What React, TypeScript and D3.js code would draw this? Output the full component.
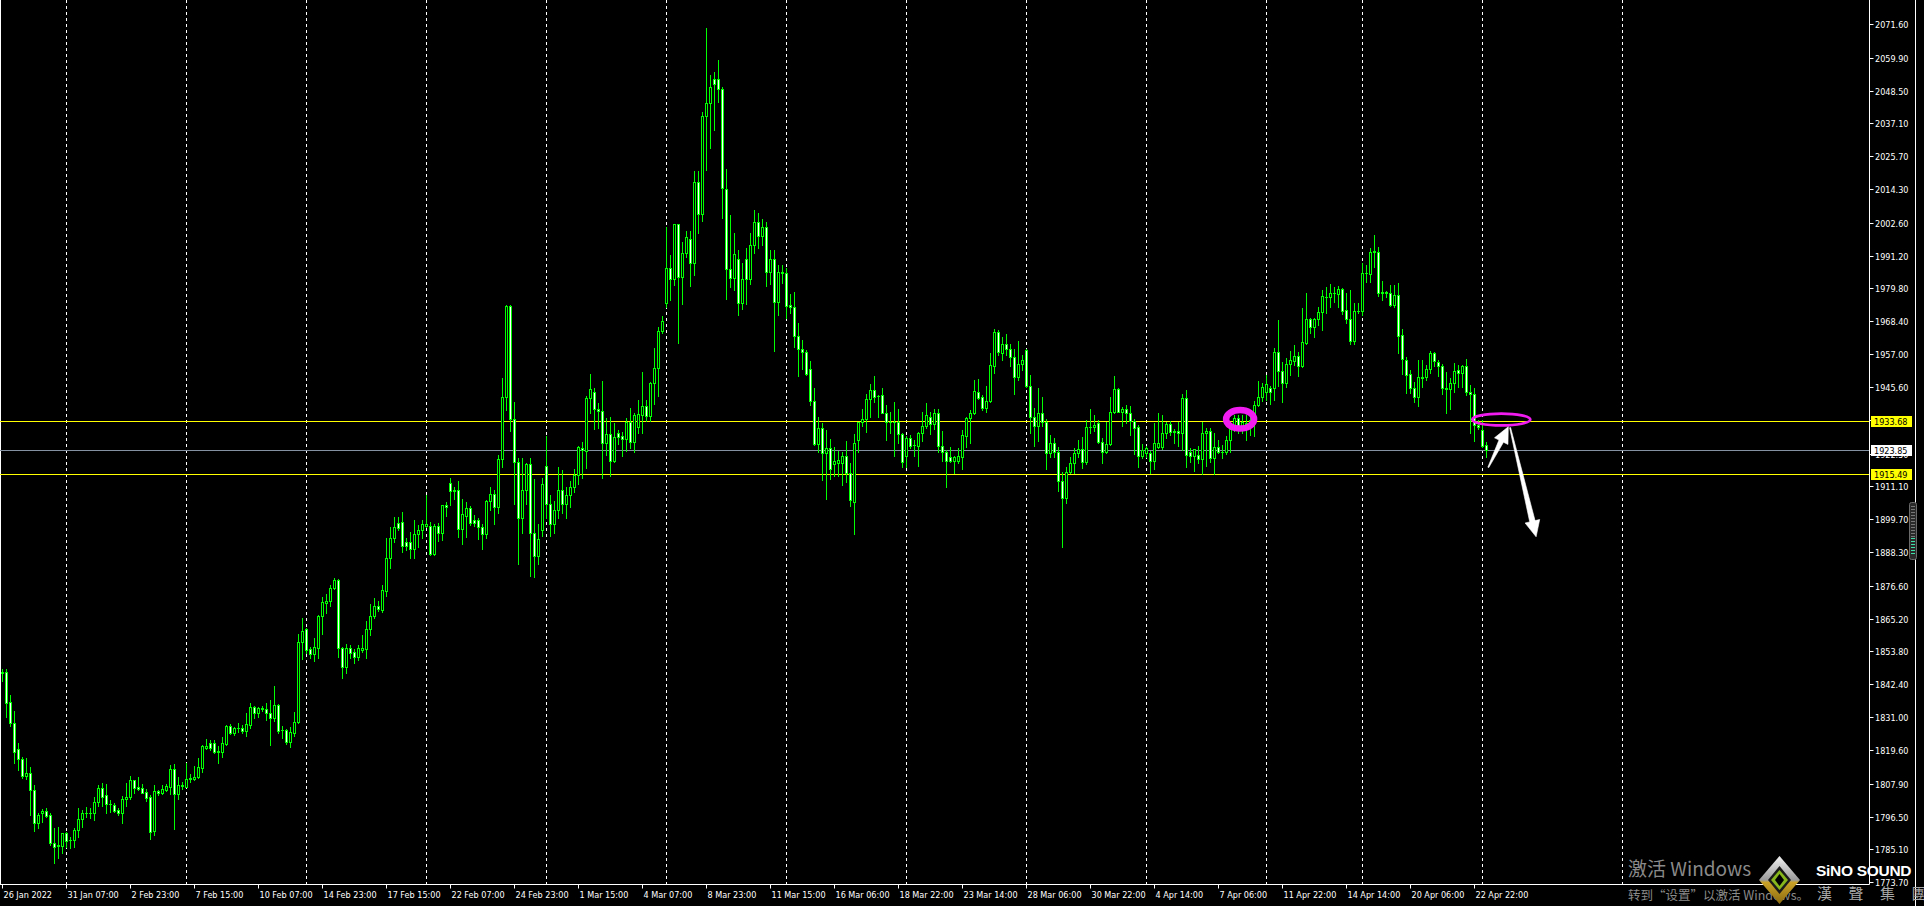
import React, { useEffect } from 'react';
import * as d3 from 'd3';

// ---------- DATA (XAUUSD H4) ----------
const opens = [
  1846.2, 1846.6, 1836.2, 1828.9, 1820.0, 1816.5, 1810.7, 1811.5, 1805.7, 1794.4,
  1797.6, 1798.3, 1797.1, 1787.2, 1786.6, 1786.4, 1790.7, 1788.4, 1788.4, 1791.9,
  1795.6, 1797.6, 1797.8, 1797.6, 1801.5, 1806.3, 1803.9, 1800.9, 1800.4, 1798.7,
  1797.6, 1802.5, 1803.4, 1809.1, 1806.6, 1806.3, 1804.9, 1803.2, 1791.6, 1805.2,
  1804.8, 1805.7, 1806.9, 1812.9, 1804.2, 1807.0, 1806.9, 1809.6, 1809.5, 1810.1,
  1813.5, 1820.2, 1821.9, 1821.9, 1819.0, 1818.8, 1821.7, 1827.9, 1825.4, 1827.1,
  1827.3, 1826.3, 1828.3, 1834.4, 1832.6, 1834.0, 1833.7, 1832.6, 1830.8, 1835.2,
  1826.5, 1826.6, 1822.5, 1825.6, 1829.2, 1857.0, 1861.5, 1854.7, 1852.8, 1855.1,
  1866.1, 1870.7, 1871.4, 1875.7, 1878.6, 1854.9, 1848.5, 1854.9, 1853.5, 1852.0,
  1854.3, 1854.6, 1861.5, 1866.2, 1869.6, 1868.2, 1874.9, 1886.1, 1893.1, 1898.3,
  1898.6, 1891.7, 1891.7, 1889.3, 1894.5, 1896.0, 1897.4, 1897.4, 1887.5, 1897.4,
  1894.8, 1904.6, 1912.2, 1909.4, 1909.9, 1896.2, 1900.9, 1903.5, 1899.4, 1899.4,
  1896.9, 1894.5, 1906.0, 1908.5, 1904.0, 1920.5, 1942.0, 1973.7, 1934.4, 1919.7,
  1900.0, 1910.0, 1918.8, 1895.0, 1887.0, 1896.0, 1918.2, 1905.0, 1898.0, 1903.0,
  1910.0, 1905.0, 1908.0, 1911.0, 1915.0, 1924.6, 1923.5, 1941.7, 1944.0, 1937.9,
  1937.4, 1926.3, 1929.2, 1920.0, 1929.5, 1928.6, 1927.4, 1933.6, 1926.6, 1931.8,
  1935.9, 1939.0, 1935.5, 1946.9, 1952.1, 1965.0, 1974.6, 1986.8, 1983.0, 2002.1,
  1983.9, 1992.0, 1996.9, 1988.8, 2016.6, 2005.5, 2039.7, 2044.1, 2052.4, 2052.4,
  2048.9, 2014.2, 1986.4, 1983.3, 1989.9, 1974.6, 1990.0, 1983.0, 1995.0, 2003.0,
  1998.0, 2001.0, 1985.6, 1990.0, 1975.0, 1985.6, 1985.1, 1974.1, 1973.3, 1963.4,
  1958.7, 1957.6, 1951.7, 1940.9, 1925.8, 1931.3, 1922.6, 1924.3, 1918.8, 1919.3,
  1919.3, 1921.7, 1915.6, 1905.8, 1927.2, 1933.6, 1934.4, 1941.3, 1944.6, 1942.5,
  1942.8, 1936.7, 1933.3, 1933.4, 1933.3, 1929.2, 1921.8, 1927.8, 1925.4, 1925.2,
  1929.5, 1932.1, 1935.3, 1932.7, 1936.5, 1925.1, 1923.2, 1921.2, 1920.0, 1920.0,
  1921.4, 1928.7, 1934.7, 1936.5, 1943.8, 1942.0, 1938.2, 1940.7, 1953.0, 1964.6,
  1957.3, 1960.4, 1958.7, 1956.1, 1949.0, 1953.6, 1958.4, 1945.9, 1935.1, 1932.2,
  1936.5, 1933.6, 1922.6, 1926.3, 1922.9, 1913.0, 1907.0, 1916.0, 1919.1, 1922.6,
  1924.0, 1919.5, 1931.6, 1931.6, 1933.0, 1926.6, 1923.2, 1925.8, 1937.0, 1944.8,
  1937.0, 1937.8, 1936.7, 1933.9, 1931.6, 1921.8, 1922.6, 1922.8, 1920.0, 1924.9,
  1924.9, 1929.5, 1932.8, 1930.5, 1930.4, 1929.5, 1941.7, 1923.2, 1921.8, 1922.0,
  1920.5, 1929.5, 1930.3, 1920.8, 1924.7, 1922.9, 1922.9, 1927.2, 1930.9, 1934.7,
  1932.2, 1932.4, 1933.2, 1933.2, 1939.4, 1942.0, 1944.0, 1945.1, 1945.1, 1957.6,
  1951.3, 1946.9, 1953.6, 1954.7, 1956.4, 1953.0, 1961.0, 1969.1, 1966.5, 1969.1,
  1971.5, 1977.0, 1976.7, 1978.3, 1977.9, 1979.6, 1972.3, 1969.1, 1961.7, 1972.0,
  1972.1, 1985.1, 1984.8, 1992.6, 1992.3, 1978.4, 1978.4, 1978.1, 1974.1, 1977.5,
  1963.7, 1955.0, 1950.1, 1945.1, 1942.2, 1948.8, 1949.0, 1951.7, 1957.3, 1954.4,
  1953.0, 1945.1, 1944.8, 1946.9, 1951.5, 1950.4, 1952.9, 1944.0, 1943.2, 1932.4,
  1930.7, 1925.5,
];

const highs = [
  1847.6, 1847.6, 1838.7, 1833.2, 1821.9, 1817.1, 1816.7, 1813.8, 1807.5, 1797.6,
  1799.0, 1799.4, 1797.6, 1792.4, 1792.8, 1790.7, 1791.3, 1789.5, 1792.4, 1799.4,
  1798.8, 1799.7, 1799.4, 1803.2, 1807.5, 1808.3, 1807.7, 1802.3, 1801.3, 1799.4,
  1803.7, 1808.0, 1810.6, 1809.2, 1810.1, 1807.7, 1806.0, 1804.0, 1807.5, 1805.7,
  1807.5, 1807.7, 1814.3, 1814.6, 1810.1, 1808.6, 1815.0, 1811.2, 1814.1, 1816.7,
  1821.4, 1823.3, 1823.1, 1823.1, 1821.0, 1824.2, 1828.3, 1828.6, 1827.7, 1828.9,
  1828.3, 1832.3, 1835.8, 1834.9, 1834.6, 1834.9, 1835.8, 1837.0, 1841.8, 1835.5,
  1827.9, 1826.8, 1827.5, 1832.7, 1859.8, 1865.3, 1861.8, 1855.2, 1858.4, 1866.5,
  1872.6, 1873.8, 1876.9, 1879.2, 1878.8, 1855.2, 1856.3, 1856.1, 1854.6, 1856.1,
  1859.5, 1864.4, 1870.3, 1872.3, 1871.4, 1876.9, 1893.1, 1897.1, 1900.6, 1900.6,
  1902.1, 1893.1, 1895.4, 1899.4, 1897.7, 1899.4, 1908.1, 1898.6, 1898.1, 1898.3,
  1904.6, 1905.6, 1913.9, 1910.8, 1913.0, 1906.6, 1905.6, 1904.3, 1901.2, 1900.0,
  1897.9, 1906.4, 1911.0, 1910.0, 1922.0, 1948.6, 1974.1, 1973.9, 1940.5, 1921.0,
  1920.8, 1919.3, 1920.8, 1913.6, 1898.0, 1914.0, 1928.6, 1908.0, 1906.0, 1918.0,
  1916.8, 1911.0, 1913.0, 1917.0, 1925.1, 1926.6, 1942.5, 1950.1, 1945.1, 1939.9,
  1947.7, 1934.7, 1935.1, 1933.0, 1930.7, 1930.1, 1934.7, 1938.2, 1936.5, 1941.1,
  1950.9, 1941.1, 1947.5, 1959.0, 1966.5, 1970.2, 2001.2, 1991.4, 2002.1, 2002.1,
  1995.8, 1999.7, 1999.7, 2020.6, 2020.6, 2040.9, 2070.1, 2053.9, 2055.0, 2059.1,
  2049.6, 2021.2, 2005.3, 1998.9, 1993.2, 1988.8, 1994.0, 1999.0, 2007.0, 2006.0,
  2004.0, 2003.0, 1993.0, 1993.0, 1988.0, 1988.0, 1987.0, 1977.9, 1978.5, 1967.7,
  1961.9, 1958.4, 1954.7, 1945.1, 1935.1, 1933.0, 1930.7, 1927.6, 1924.8, 1923.4,
  1922.9, 1926.9, 1919.3, 1929.3, 1933.6, 1937.9, 1943.2, 1946.6, 1949.4, 1942.8,
  1945.1, 1939.4, 1936.8, 1940.4, 1938.0, 1929.5, 1928.7, 1928.9, 1927.2, 1929.9,
  1936.8, 1939.9, 1936.8, 1937.9, 1937.9, 1930.3, 1923.7, 1924.7, 1921.8, 1924.3,
  1930.7, 1935.3, 1937.6, 1948.0, 1948.4, 1942.7, 1945.9, 1957.3, 1965.6, 1965.4,
  1962.8, 1963.9, 1960.4, 1958.7, 1961.6, 1956.7, 1958.7, 1949.8, 1938.2, 1945.1,
  1942.2, 1934.4, 1928.9, 1928.0, 1924.9, 1916.0, 1918.0, 1921.4, 1924.3, 1927.2,
  1928.1, 1934.1, 1938.0, 1935.9, 1934.1, 1927.8, 1933.6, 1942.2, 1949.4, 1945.1,
  1938.8, 1939.4, 1939.0, 1934.5, 1932.4, 1925.8, 1925.1, 1923.4, 1933.2, 1936.5,
  1935.9, 1933.6, 1933.9, 1930.9, 1933.6, 1943.2, 1944.6, 1924.3, 1924.0, 1925.2,
  1933.6, 1931.3, 1931.5, 1929.5, 1927.2, 1925.5, 1928.6, 1932.1, 1935.9, 1935.9,
  1935.9, 1935.9, 1935.1, 1940.9, 1947.7, 1946.9, 1949.8, 1946.0, 1959.0, 1968.9,
  1954.4, 1955.6, 1958.2, 1960.2, 1957.9, 1972.9, 1978.1, 1969.7, 1969.4, 1973.3,
  1979.1, 1980.4, 1981.4, 1980.4, 1980.7, 1979.9, 1978.1, 1979.3, 1974.6, 1974.9,
  1988.5, 1988.0, 1993.7, 1998.4, 1994.1, 1982.4, 1979.0, 1981.0, 1981.0, 1981.8,
  1965.6, 1956.1, 1951.5, 1947.4, 1955.0, 1955.0, 1953.2, 1958.1, 1957.9, 1955.0,
  1953.6, 1950.9, 1948.6, 1953.8, 1953.2, 1953.2, 1955.3, 1946.3, 1945.4, 1934.1,
  1934.1, 1926.6,
];

const lows = [
  1843.7, 1831.2, 1828.0, 1815.0, 1812.7, 1809.8, 1809.4, 1797.1, 1791.6, 1792.4,
  1794.7, 1796.5, 1786.6, 1780.3, 1782.0, 1784.0, 1786.1, 1785.5, 1785.8, 1789.3,
  1793.0, 1796.2, 1796.1, 1795.3, 1800.3, 1800.3, 1797.9, 1798.2, 1798.1, 1797.1,
  1794.4, 1800.3, 1802.5, 1804.8, 1805.7, 1804.6, 1801.9, 1788.7, 1790.1, 1804.0,
  1804.3, 1805.2, 1804.3, 1792.2, 1802.6, 1806.0, 1806.7, 1808.6, 1809.2, 1809.9,
  1811.8, 1820.0, 1819.6, 1818.7, 1815.2, 1817.1, 1821.4, 1825.2, 1824.8, 1826.0,
  1825.4, 1824.5, 1827.1, 1830.8, 1831.2, 1833.3, 1830.0, 1821.3, 1829.8, 1825.4,
  1823.7, 1821.7, 1820.8, 1824.6, 1829.1, 1851.2, 1853.2, 1851.4, 1850.6, 1851.4,
  1859.9, 1867.3, 1869.6, 1875.5, 1852.0, 1844.5, 1846.2, 1851.4, 1849.9, 1850.8,
  1853.7, 1851.4, 1859.5, 1865.3, 1867.9, 1867.6, 1873.2, 1882.7, 1891.9, 1896.0,
  1888.2, 1889.0, 1886.4, 1886.4, 1890.2, 1893.3, 1896.9, 1887.3, 1887.3, 1892.3,
  1892.5, 1900.8, 1904.6, 1906.6, 1893.6, 1891.1, 1893.6, 1897.7, 1897.4, 1892.8,
  1889.4, 1893.3, 1903.0, 1898.0, 1902.0, 1918.0, 1937.6, 1930.4, 1905.0, 1884.0,
  1895.0, 1905.0, 1880.0, 1879.5, 1884.0, 1894.0, 1900.0, 1894.0, 1895.0, 1900.0,
  1902.0, 1900.0, 1904.0, 1909.0, 1912.0, 1913.9, 1917.6, 1936.5, 1930.9, 1931.5,
  1913.9, 1922.0, 1914.7, 1919.7, 1925.8, 1921.8, 1923.5, 1924.3, 1923.1, 1929.8,
  1929.8, 1933.9, 1933.9, 1939.7, 1942.5, 1964.2, 1973.5, 1975.8, 1981.0, 1961.0,
  1974.4, 1990.8, 1980.8, 1984.5, 1999.2, 2003.3, 2020.9, 2028.7, 2034.8, 2044.6,
  2004.1, 1976.0, 1980.4, 1979.3, 1970.6, 1972.6, 1974.3, 1981.4, 1992.0, 1994.0,
  1995.0, 1980.8, 1981.4, 1958.2, 1970.6, 1981.8, 1969.7, 1971.2, 1959.6, 1949.4,
  1951.9, 1949.8, 1939.4, 1925.5, 1923.1, 1913.3, 1906.7, 1913.7, 1914.8, 1914.8,
  1911.6, 1912.5, 1904.4, 1894.6, 1923.1, 1932.1, 1930.1, 1935.3, 1940.5, 1935.3,
  1936.5, 1927.2, 1929.7, 1921.8, 1926.1, 1917.7, 1918.0, 1924.3, 1921.8, 1918.3,
  1926.9, 1931.2, 1929.3, 1930.9, 1922.9, 1920.0, 1911.0, 1919.7, 1915.9, 1919.3,
  1917.0, 1924.9, 1926.1, 1936.2, 1941.3, 1937.6, 1937.0, 1940.5, 1950.6, 1956.7,
  1955.0, 1956.7, 1953.0, 1943.2, 1948.0, 1951.5, 1945.5, 1929.5, 1925.2, 1927.0,
  1932.1, 1917.0, 1921.2, 1921.2, 1909.6, 1890.2, 1905.2, 1915.6, 1915.6, 1921.4,
  1917.4, 1918.9, 1929.5, 1930.5, 1926.0, 1919.1, 1922.6, 1925.5, 1936.5, 1936.8,
  1932.2, 1933.2, 1928.9, 1922.3, 1917.7, 1920.8, 1921.2, 1915.9, 1917.0, 1924.3,
  1924.0, 1927.8, 1928.9, 1926.3, 1925.2, 1923.7, 1917.9, 1919.5, 1916.6, 1919.1,
  1915.3, 1918.3, 1919.7, 1915.3, 1922.6, 1920.8, 1922.3, 1923.2, 1930.4, 1929.5,
  1929.8, 1927.2, 1928.9, 1928.6, 1939.0, 1940.7, 1941.1, 1939.7, 1941.1, 1946.1,
  1940.5, 1945.7, 1949.8, 1953.2, 1949.5, 1952.7, 1960.5, 1964.2, 1962.8, 1967.1,
  1965.4, 1971.4, 1973.3, 1975.2, 1973.3, 1970.9, 1967.7, 1960.5, 1960.5, 1971.4,
  1970.6, 1982.2, 1982.2, 1987.4, 1977.3, 1975.8, 1976.7, 1973.7, 1973.5, 1957.3,
  1950.1, 1943.6, 1943.6, 1940.5, 1939.0, 1945.5, 1948.0, 1950.6, 1953.0, 1949.5,
  1943.2, 1936.7, 1937.9, 1944.0, 1945.7, 1945.5, 1942.8, 1929.5, 1927.0, 1930.9,
  1924.9, 1921.4,
];

const closes = [
  1846.8, 1835.8, 1828.9, 1819.0, 1816.4, 1810.7, 1811.5, 1805.7, 1794.4, 1797.1,
  1798.4, 1796.8, 1787.2, 1786.1, 1786.4, 1790.7, 1788.1, 1788.4, 1791.9, 1795.6,
  1797.6, 1797.8, 1797.7, 1801.5, 1806.3, 1803.4, 1800.8, 1800.7, 1798.6, 1797.6,
  1802.5, 1803.2, 1809.2, 1806.5, 1806.1, 1804.8, 1803.1, 1791.3, 1805.2, 1804.6,
  1806.1, 1807.1, 1812.9, 1804.2, 1807.4, 1807.4, 1809.4, 1809.8, 1810.2, 1813.6,
  1821.0, 1821.0, 1820.4, 1819.0, 1819.1, 1821.9, 1827.9, 1825.6, 1827.1, 1827.2,
  1826.3, 1828.6, 1834.4, 1832.6, 1834.1, 1834.1, 1832.6, 1830.8, 1835.2, 1826.3,
  1826.6, 1822.5, 1826.0, 1829.2, 1857.0, 1860.9, 1854.3, 1852.8, 1855.2, 1866.1,
  1870.9, 1871.3, 1875.7, 1878.6, 1854.9, 1848.5, 1854.9, 1853.4, 1852.0, 1854.9,
  1854.9, 1861.5, 1866.2, 1869.6, 1868.4, 1875.1, 1886.1, 1893.1, 1896.9, 1896.7,
  1890.5, 1890.5, 1889.3, 1894.5, 1896.0, 1897.9, 1897.9, 1887.5, 1897.4, 1894.8,
  1904.6, 1903.8, 1909.4, 1909.9, 1896.2, 1901.4, 1903.5, 1898.3, 1898.3, 1896.9,
  1894.5, 1906.0, 1908.5, 1904.0, 1920.5, 1942.0, 1973.7, 1934.4, 1919.7, 1900.0,
  1910.0, 1918.8, 1895.0, 1887.0, 1893.0, 1912.0, 1905.0, 1898.0, 1903.0, 1910.0,
  1905.0, 1908.0, 1911.0, 1915.0, 1924.9, 1923.7, 1941.7, 1944.8, 1937.9, 1937.4,
  1926.3, 1929.2, 1920.0, 1928.4, 1928.4, 1927.4, 1933.6, 1926.6, 1935.9, 1936.1,
  1939.0, 1935.5, 1946.9, 1952.1, 1965.0, 1968.5, 1986.8, 1983.0, 2002.1, 1983.9,
  1992.0, 1997.5, 1988.8, 2016.6, 2005.5, 2039.7, 2044.1, 2049.6, 2050.7, 2048.9,
  2014.6, 1986.4, 1983.3, 1991.6, 1974.6, 1983.0, 1983.0, 1995.0, 2003.0, 1998.0,
  2001.0, 1985.6, 1990.0, 1975.0, 1985.6, 1985.2, 1973.8, 1973.3, 1963.4, 1958.7,
  1957.6, 1950.1, 1940.9, 1925.8, 1931.3, 1922.6, 1924.3, 1917.1, 1920.0, 1920.3,
  1921.7, 1915.6, 1906.4, 1926.1, 1933.6, 1934.4, 1941.3, 1944.6, 1942.2, 1942.6,
  1936.7, 1933.3, 1933.4, 1933.3, 1929.2, 1919.5, 1927.8, 1925.2, 1925.5, 1929.5,
  1932.1, 1935.9, 1932.7, 1936.5, 1925.1, 1923.2, 1920.0, 1920.0, 1921.2, 1921.7,
  1928.9, 1934.7, 1936.5, 1944.2, 1941.9, 1938.2, 1940.7, 1953.2, 1964.6, 1957.6,
  1960.4, 1958.7, 1956.1, 1949.0, 1953.6, 1955.0, 1945.9, 1935.1, 1932.2, 1936.5,
  1933.6, 1922.6, 1926.3, 1922.9, 1913.0, 1907.0, 1916.0, 1919.1, 1922.6, 1924.0,
  1919.5, 1931.6, 1931.7, 1932.4, 1926.6, 1923.2, 1925.8, 1937.0, 1944.8, 1937.0,
  1938.0, 1936.7, 1933.9, 1931.3, 1921.8, 1923.7, 1924.3, 1920.0, 1926.0, 1926.0,
  1929.5, 1932.8, 1930.1, 1930.1, 1929.5, 1941.7, 1922.0, 1921.8, 1924.0, 1920.5,
  1929.5, 1930.3, 1920.8, 1924.9, 1922.9, 1923.0, 1927.2, 1930.9, 1934.7, 1932.2,
  1933.6, 1933.2, 1934.1, 1939.4, 1942.0, 1945.5, 1946.5, 1944.0, 1957.6, 1951.3,
  1946.9, 1953.6, 1955.0, 1956.4, 1953.0, 1961.1, 1969.1, 1966.3, 1969.1, 1971.5,
  1977.3, 1976.9, 1978.3, 1978.4, 1979.6, 1972.1, 1969.1, 1961.7, 1972.0, 1972.1,
  1985.1, 1985.2, 1992.6, 1992.7, 1978.1, 1978.5, 1978.5, 1974.1, 1977.5, 1963.3,
  1955.2, 1949.8, 1945.1, 1942.2, 1949.0, 1949.0, 1951.7, 1957.3, 1954.6, 1953.0,
  1945.1, 1944.8, 1947.1, 1951.2, 1950.4, 1952.9, 1943.8, 1943.2, 1932.4, 1931.6,
  1925.2, 1923.85,
];

const priceTicks = [
  2071.6, 2059.9, 2048.5, 2037.1, 2025.7, 2014.3, 2002.6, 1991.2, 1979.8, 1968.4,
  1957.0, 1945.6, 1934.2, 1922.5, 1911.1, 1899.7, 1888.3, 1876.6, 1865.2, 1853.8,
  1842.4, 1831.0, 1819.6, 1807.9, 1796.5, 1785.1, 1773.7,
];

const timeLabelBars = [0, 16, 32, 48, 64, 80, 96, 112, 128, 144, 160, 176, 192, 208, 224, 240, 256, 272, 288, 304, 320, 336, 352, 368];
const timeLabels = [
  '26 Jan 2022', '31 Jan 07:00', '2 Feb 23:00', '7 Feb 15:00', '10 Feb 07:00', '14 Feb 23:00',
  '17 Feb 15:00', '22 Feb 07:00', '24 Feb 23:00', '1 Mar 15:00', '4 Mar 07:00', '8 Mar 23:00',
  '11 Mar 15:00', '16 Mar 06:00', '18 Mar 22:00', '23 Mar 14:00', '28 Mar 06:00', '30 Mar 22:00',
  '4 Apr 14:00', '7 Apr 06:00', '11 Apr 22:00', '14 Apr 14:00', '20 Apr 06:00', '22 Apr 22:00',
];

const weekSeparatorBars = [16, 46, 76, 106, 136, 166, 196, 226, 256, 286, 316, 340, 370, 405];

const levelLines = [1933.68, 1915.49];
const bidPrice = 1923.85;

// annotations (bar index, price)
const ellipseMarks = [
  { bar: 309.4, price: 1934.4, rx: 14, ry: 9.3, sw: 6.5 },
  { bar: 374.7, price: 1934.3, rx: 29, ry: 5.9, sw: 2.7 },
];
const arrowMarks = [
  { b0: 371.45, p0: 1917.7, b1: 376.45, p1: 1931.8, w0: 1, w1: 5, hl: 16, hw: 7.5 },
  { b0: 376.9, p0: 1931.5, b1: 383.4, p1: 1893.6, w0: 1, w1: 5.5, hl: 16, hw: 7.5 },
];

const FONT = "'DejaVu Sans Condensed', 'DejaVu Sans', sans-serif";

export default function App() {
  useEffect(() => {
    document.body.style.margin = '0';
    document.body.style.background = '#000';
  }, []);

  const W = 1924;
  const H = 906;
  const axisX = 1869.5;
  const axisY = 884.5;

  const x = d3.scaleLinear().domain([0, 1]).range([2.5, 6.5]);
  const y = d3.scaleLinear().domain([2071.6, 1785.1]).range([24, 849.4]);

  const green = '#00ff00';

  const candles = opens.map((o, i) => {
    const c = closes[i];
    const h = Math.max(highs[i], o, c);
    const l = Math.min(lows[i], o, c);
    const xc = x(i);
    const yTop = Math.round(y(Math.max(o, c)));
    const yBot = Math.round(y(Math.min(o, c)));
    const yH = Math.round(y(h));
    const yL = Math.round(y(l));
    const bear = c < o;
    const bh = yBot - yTop;
    return (
      <g key={i}>
        <rect x={xc - 0.5} y={yH} width={1} height={Math.max(1, yL - yH + 1)} fill={green} />
        <rect x={xc - 1.5} y={yTop} width={3} height={Math.max(1, bh + 1)} fill={green} />
        {bh >= 2 && (
          <rect x={xc - 0.5} y={yTop + 1} width={1} height={bh - 1} fill={bear ? '#ffffff' : '#000000'} />
        )}
      </g>
    );
  });

  const arrowPath = (a: typeof arrowMarks[number]) => {
    const x0 = x(a.b0), y0 = y(a.p0), x1 = x(a.b1), y1 = y(a.p1);
    const len = Math.hypot(x1 - x0, y1 - y0);
    const ux = (x1 - x0) / len, uy = (y1 - y0) / len;
    const nx = -uy, ny = ux;
    const bx = x1 - ux * a.hl, by = y1 - uy * a.hl;
    const pts = [
      [x0 + nx * a.w0 / 2, y0 + ny * a.w0 / 2],
      [bx + nx * a.w1 / 2, by + ny * a.w1 / 2],
      [bx + nx * a.hw, by + ny * a.hw],
      [x1, y1],
      [bx - nx * a.hw, by - ny * a.hw],
      [bx - nx * a.w1 / 2, by - ny * a.w1 / 2],
      [x0 - nx * a.w0 / 2, y0 - ny * a.w0 / 2],
    ];
    return 'M' + pts.map(p => p[0].toFixed(2) + ',' + p[1].toFixed(2)).join('L') + 'Z';
  };

  const hanzi = ['漢', '聲', '集', '團'];

  return (
    <svg width={W} height={H} style={{ position: 'fixed', left: 0, top: 0, display: 'block' }}>
      <rect x={0} y={0} width={W} height={H} fill="#000" />

      {/* week separators */}
      {weekSeparatorBars.map(b => (
        <line key={'w' + b} x1={Math.floor(x(b)) + 0.5} x2={Math.floor(x(b)) + 0.5} y1={0} y2={axisY}
          stroke="#ffffff" strokeWidth={1} strokeDasharray="3,3" />
      ))}

      {/* left border */}
      <line x1={0.5} x2={0.5} y1={0} y2={axisY} stroke="#ffffff" strokeWidth={1} />

      {/* level lines */}
      {levelLines.map(v => (
        <line key={'l' + v} x1={0} x2={axisX} y1={Math.round(y(v)) + 0.5} y2={Math.round(y(v)) + 0.5}
          stroke="#ffff00" strokeWidth={1} />
      ))}
      <line x1={0} x2={axisX} y1={Math.round(y(bidPrice)) + 0.5} y2={Math.round(y(bidPrice)) + 0.5}
        stroke="#8391a3" strokeWidth={1} />

      {/* candles */}
      <g shapeRendering="crispEdges">{candles}</g>

      {/* annotations */}
      {ellipseMarks.map((e, i) => (
        <ellipse key={'e' + i} cx={x(e.bar)} cy={y(e.price)} rx={e.rx} ry={e.ry}
          fill="none" stroke="#f01cf0" strokeWidth={e.sw} />
      ))}
      {arrowMarks.map((a, i) => (
        <path key={'a' + i} d={arrowPath(a)} fill="#ffffff" stroke="#ffffff" strokeWidth={0.6} strokeLinejoin="round" />
      ))}

      {/* axes frame */}
      <line x1={0} x2={axisX} y1={axisY} y2={axisY} stroke="#ffffff" strokeWidth={1} />
      <line x1={axisX} x2={axisX} y1={0} y2={axisY} stroke="#ffffff" strokeWidth={1} />
      <line x1={1915.5} x2={1915.5} y1={0} y2={H} stroke="#ffffff" strokeWidth={1} />

      {/* price axis */}
      {priceTicks.map(v => {
        const yy = Math.round(y(v)) + 0.5;
        return (
          <g key={'p' + v}>
            <line x1={axisX} x2={axisX + 4} y1={yy} y2={yy} stroke="#ffffff" strokeWidth={1} />
            <text x={1875} y={yy} dy="0.35em" fill="#ffffff" fontFamily={FONT} fontSize={9} fontStretch="condensed">
              {v.toFixed(2)}
            </text>
          </g>
        );
      })}

      {/* price labels for levels */}
      {levelLines.map(v => {
        const yy = Math.round(y(v)) + 0.5;
        return (
          <g key={'pl' + v}>
            <rect x={1871} y={yy - 5.5} width={41} height={11} fill="#ffff00" />
            <text x={1874} y={yy} dy="0.35em" fill="#000" fontFamily={FONT} fontSize={9} fontStretch="condensed">
              {v.toFixed(2)}
            </text>
          </g>
        );
      })}
      {(() => {
        const yy = Math.round(y(bidPrice)) + 0.5;
        return (
          <g>
            <rect x={1871} y={yy - 5.5} width={41} height={11} fill="#ffffff" />
            <text x={1874} y={yy} dy="0.35em" fill="#000" fontFamily={FONT} fontSize={9} fontStretch="condensed">
              {bidPrice.toFixed(2)}
            </text>
          </g>
        );
      })()}

      {/* time axis */}
      {timeLabelBars.map((b, i) => {
        const xx = Math.floor(x(b)) + 0.5;
        return (
          <g key={'t' + b}>
            <line x1={xx} x2={xx} y1={axisY} y2={axisY + 4} stroke="#ffffff" strokeWidth={1} />
            <text x={xx + 1} y={axisY + 10} dy="0.35em" fill="#ffffff" fontFamily={FONT} fontSize={9} fontStretch="condensed">
              {timeLabels[i]}
            </text>
          </g>
        );
      })}

      {/* scroll widget */}
      <rect x={1909.5} y={502.5} width={7} height={57} rx={2} fill="#2a2a2a" stroke="#6a6a6a" strokeWidth={1} />
      {d3.range(11).map(k => (
        <line key={'sg' + k} x1={1911} x2={1915} y1={506.5 + k * 3} y2={506.5 + k * 3} stroke="#777" strokeWidth={1} />
      ))}
      {d3.range(6).map(k => (
        <line key={'sc' + k} x1={1911} x2={1915} y1={538.5 + k * 3} y2={538.5 + k * 3} stroke="#3fe0a8" strokeWidth={1} />
      ))}

      {/* watermark */}
      <text x={1628} y={876} fill="#8a8a8a" fontFamily="'Noto Sans CJK SC', 'Noto Sans', sans-serif" fontSize={19}>激活 Windows</text>
      <text x={1628} y={900} fill="#8a8a8a" fontFamily="'Noto Sans CJK SC', 'Noto Sans', sans-serif" fontSize={12.5}>转到“设置”以激活 Windows。</text>

      {/* logo */}
      <g>
        <defs>
          <linearGradient id="dg" x1="0" y1="0" x2="0" y2="1">
            <stop offset="0" stopColor="#f2f2f2" />
            <stop offset="0.5" stopColor="#9a9a9a" />
            <stop offset="0.55" stopColor="#c9a227" />
            <stop offset="1" stopColor="#8a6a10" />
          </linearGradient>
        </defs>
        <path d="M1779.5,856 L1800,880 L1779.5,904 L1759,880 Z" fill="url(#dg)" />
        <path d="M1779.5,866 L1791,880 L1779.5,894 L1768,880 Z" fill="#1a1a1a" />
        <path d="M1779.5,870 L1788,880 L1779.5,890 L1771,880 Z" fill="#86b51c" />
        <path d="M1779.5,874 L1784,880 L1779.5,886 L1775,880 Z" fill="#000" />
        <text x={1816} y={876} fill="#ffffff" fontFamily="'Liberation Sans', Arial, sans-serif" fontWeight="bold" fontSize={15.5} letterSpacing={-0.3}>SiNO SOUND</text>
        {hanzi.map((ch, i) => (
          <text key={ch} x={1817 + i * 31.5} y={899} fill="#a8a8a8" fontFamily="'Noto Sans CJK TC', 'Noto Sans CJK SC', sans-serif" fontSize={15}>{ch}</text>
        ))}
      </g>
    </svg>
  );
}
